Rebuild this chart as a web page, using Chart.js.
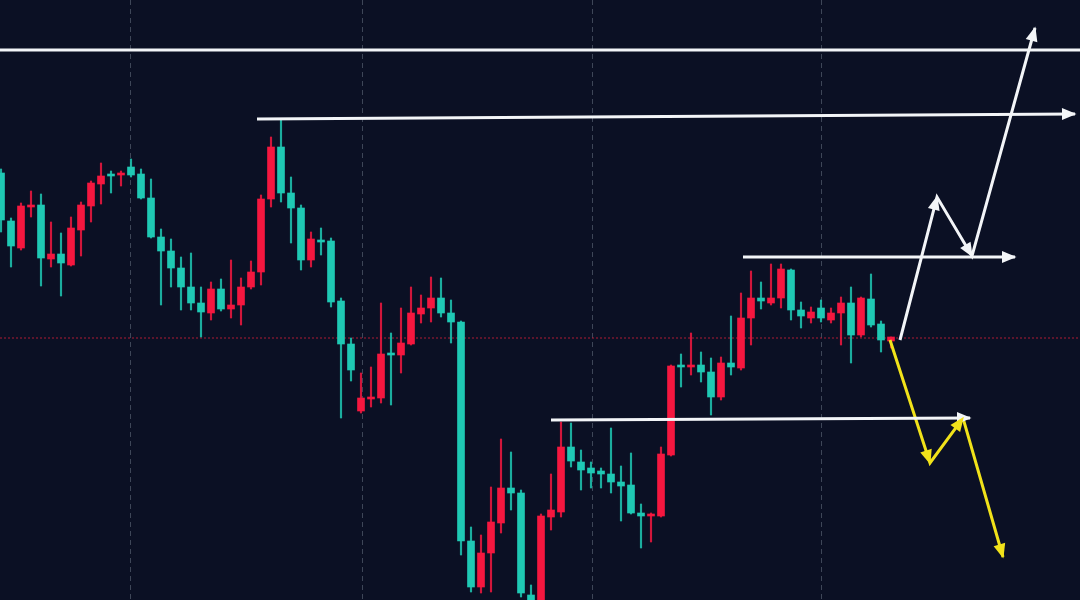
<!DOCTYPE html>
<html>
<head>
<meta charset="utf-8">
<script src="https://cdn.jsdelivr.net/npm/chart.js@4.4.1/dist/chart.umd.min.js"></script>
<style>
html,body{margin:0;padding:0;background:#0b1024;overflow:hidden;}
#wrap{width:1080px;height:600px;position:relative;background:#0b1024;}
</style>
</head>
<body>
<div id="wrap"><canvas id="c"></canvas></div>
<script>
// OHLC values of the 90 candles (price units)
const opens = [427,379,352,393,395,341,346,335,370,394,
  416,426,425,433,426,402,363,349,332,313,
  297,287,311,291,295,313,328,401,453,407,
  392,340,360,359,299,256,189,201,202,247,
  245,256,286,292,302,287,278,59,13,47,
  77,112,107,5,-6,83,88,153,138,132,
  129,126,118,115,87,84,84,145,235,233,
  235,228,203,237,232,282,302,297,302,330,
  290,282,292,280,287,297,265,301,276,259];
const closes = [380,354,394,395,342,346,337,372,395,417,
  424,424,427,425,402,363,349,332,313,297,
  288,311,291,295,313,328,401,453,407,392,
  340,361,358,298,256,230,202,203,246,245,
  257,287,292,302,287,278,59,13,47,78,
  112,107,7,-2,84,90,153,139,130,127,
  126,118,114,87,84,86,146,234,233,235,
  228,203,237,233,282,302,299,302,331,290,
  284,288,282,287,297,265,302,275,260,263];
const highs = [431,382,397,409,406,378,367,383,398,419,
  437,429,429,441,431,421,371,361,343,347,
  313,318,321,340,322,339,405,463,480,423,
  395,368,372,362,302,262,227,233,297,267,
  292,313,305,323,322,300,279,73,65,113,
  161,148,110,15,86,126,178,177,150,138,
  132,172,134,147,96,87,153,235,246,267,
  248,242,243,284,307,329,318,336,336,331,
  298,293,300,292,303,313,303,326,279,263];
const lows = [368,333,350,383,314,333,304,334,344,378,
  396,407,414,423,401,362,295,313,290,290,
  263,280,289,282,275,311,315,393,398,357,
  330,333,345,293,182,219,187,193,197,195,
  227,255,277,278,283,257,45,8,7,8,
  67,90,3,-6,-12,70,83,133,110,112,
  112,107,79,86,52,58,83,144,213,225,
  218,185,200,225,230,255,291,295,292,280,
  272,277,278,277,255,237,263,273,248,252];

// candle positions (bar number)
const candleNo = opens.map((_, i) => i + 1);

// drawn annotations, as [bar number, price]
const levelTop  = [[0.9, 550], [108.9, 550]];
const level2    = [[26.6, 481], [108.4, 486]];
const level3    = [[75.2, 343], [102.4, 343]];
const level4    = [[56.0, 180], [97.9, 182]];
const bullPath  = [[90.9, 260], [94.6, 403], [98.1, 344], [104.4, 572]];
const bearPath  = [[89.9, 260], [93.9, 137], [97.2, 182], [101.2, 43]];
const lastPrice = 262;
const gridX = [13.9, 37.1, 60.1, 83.1];
const xRange = [0.9, 108.9];
const yRange = [0, 600];

const UP = '#f5173f', DOWN = '#1fc9b4';
const UPW = 'rgba(245,23,63,0.85)', DOWNW = 'rgba(31,201,180,0.85)';
const WHITE = '#f3f5f8', YELLOW = '#f1e21a';

const isUp = candleNo.map((_, i) => closes[i] >= opens[i]);
const toXY = arr => arr.map(p => ({x: p[0], y: p[1]}));

function lineDs(points, color, arrowAt, width) {
  return {
    type: 'line', data: toXY(points), borderColor: color, backgroundColor: color,
    borderWidth: width || 3, pointRadius: 0, tension: 0, fill: false,
    order: 0, arrowAt: arrowAt, borderCapStyle: 'butt', borderJoinStyle: 'miter', clip: false
  };
}

const arrowPlugin = {
  id: 'arrows',
  afterDatasetsDraw(chart) {
    const ctx = chart.ctx;
    chart.data.datasets.forEach((ds, i) => {
      if (!ds.arrowAt) return;
      const pts = chart.getDatasetMeta(i).data;
      ds.arrowAt.forEach(k => {
        const tip = pts[k], prev = pts[k - 1];
        const a = Math.atan2(tip.y - prev.y, tip.x - prev.x);
        const L = 13, W = 6;
        const bx = tip.x - L * Math.cos(a), by = tip.y - L * Math.sin(a);
        ctx.save();
        ctx.fillStyle = ds.borderColor;
        ctx.beginPath();
        ctx.moveTo(tip.x + 1.5 * Math.cos(a), tip.y + 1.5 * Math.sin(a));
        ctx.lineTo(bx + W * Math.sin(a), by - W * Math.cos(a));
        ctx.lineTo(bx - W * Math.sin(a), by + W * Math.cos(a));
        ctx.closePath();
        ctx.fill();
        ctx.restore();
      });
    });
  }
};

new Chart(document.getElementById('c'), {
  type: 'bar',
  data: {
    datasets: [
      {
        type: 'line', data: toXY([[xRange[0], lastPrice], [xRange[1], lastPrice]]),
        borderColor: 'rgba(190,30,55,0.9)', borderWidth: 1, borderDash: [2, 2],
        pointRadius: 0, order: 10
      },
      {
        data: candleNo.map((n, i) => ({x: n, y: [lows[i], highs[i]]})),
        backgroundColor: isUp.map(u => u ? UPW : DOWNW),
        barThickness: 1.5, grouped: false, borderWidth: 0, order: 6
      },
      {
        data: candleNo.map((n, i) => ({x: n, y: [opens[i], closes[i]]})),
        backgroundColor: isUp.map(u => u ? UP : DOWN),
        barThickness: 7, grouped: false, borderWidth: 0, minBarLength: 2, order: 5
      },
      lineDs(levelTop, WHITE, null),
      lineDs(level2, WHITE, [1]),
      lineDs(level3, WHITE, [1]),
      lineDs(level4, WHITE, [1]),
      lineDs(bullPath, WHITE, [1, 2, 3]),
      lineDs(bearPath, YELLOW, [1, 2, 3])
    ]
  },
  options: {
    responsive: true,
    maintainAspectRatio: false,
    animation: false,
    layout: {padding: 0},
    plugins: {legend: {display: false}, tooltip: {enabled: false}},
    scales: {
      x: {
        type: 'linear', min: xRange[0], max: xRange[1], offset: false,
        afterBuildTicks: s => { s.ticks = gridX.map(v => ({value: v})); },
        ticks: {display: false},
        grid: {color: 'rgba(80,88,105,0.75)', lineWidth: 1, drawTicks: false, offset: false},
        border: {display: false, dash: [5, 4]}
      },
      y: {
        type: 'linear', min: yRange[0], max: yRange[1], display: false
      }
    }
  },
  plugins: [arrowPlugin]
});
</script>
</body>
</html>
